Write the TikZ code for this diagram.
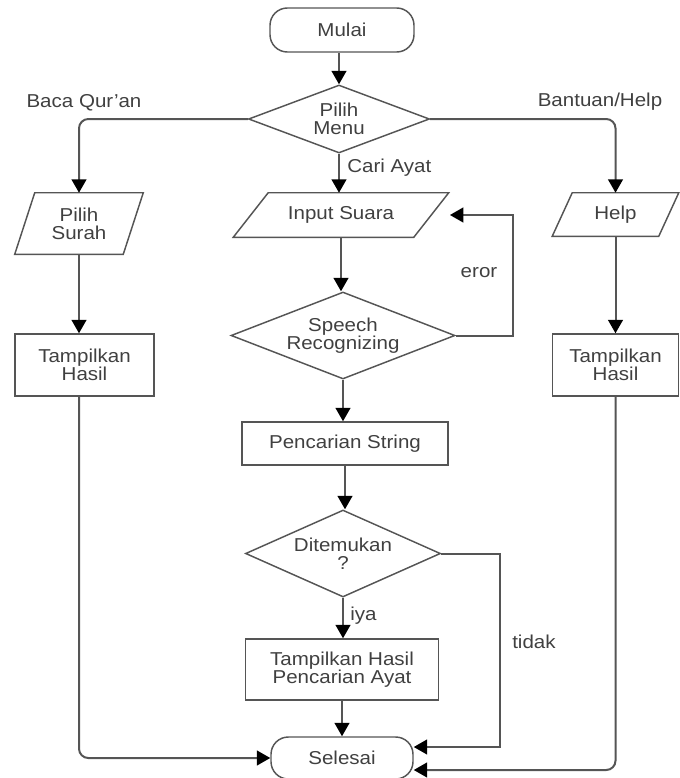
\documentclass[tikz,border=0pt]{standalone}
\usepackage{fontspec}
\setmainfont{Liberation Sans}[FakeStretch=1.1]
\usetikzlibrary{shapes.geometric,arrows.meta}
\definecolor{ln}{HTML}{555555}
\definecolor{tx}{HTML}{404040}
\newcommand\myparal[2]{\draw[shp] ([xshift=#2]#1.north west) -- ([xshift=#2]#1.north east) -- ([xshift=-#2]#1.south east) -- ([xshift=-#2]#1.south west) -- cycle;}
\begin{document}
\begin{tikzpicture}[x=0.75pt,y=-0.75pt,
  every node/.style={font=\fontsize{14}{13.3}\selectfont, text=tx, align=center, inner sep=0pt},
  shp/.style={draw=ln, line width=1.1pt},
  box/.style={shp, rectangle},
  term/.style={shp, rectangle, rounded corners=13pt},
  dec/.style={shp, diamond},
  para/.style={rectangle},
  conn/.style={draw=ln, line width=1.5pt, -{Triangle[length=10pt,width=11pt,color=black]}},
  lbl/.style={}
]
\useasboundingbox (0,0) rectangle (679,778);

% nodes
\node[term, minimum width=108pt, minimum height=33pt] (mulai) at (342,30) {Mulai};
\node[dec, aspect=2.66, minimum width=135.75pt, minimum height=51pt] (menu) at (339,119) {Pilih\\Menu};

\node[para, minimum width=81pt, minimum height=45.75pt] (surah) at (79,223.5) {Pilih\\Surah};
\myparal{surah}{7.5pt}
\node[box, minimum width=104.25pt, minimum height=46.5pt] (hasilL) at (84.5,365) {Tampilkan\\Hasil};

\node[para, minimum width=135pt, minimum height=33pt] (input) at (341,215) {Input Suara};
\myparal{input}{13.1pt}
\node[dec, aspect=2.57, minimum width=168pt, minimum height=65.25pt] (speech) at (343,335.5) {Speech\\Recognizing};
\node[box, minimum width=154.5pt, minimum height=32.25pt] (cari) at (345,443.5) {Pencarian String};
\node[dec, aspect=2.24, minimum width=146.25pt, minimum height=65.25pt] (found) at (343,553.5) {Ditemukan\\?};
\node[box, minimum width=144.75pt, minimum height=45.75pt] (ayat) at (342,669.5) {Tampilkan Hasil\\Pencarian Ayat};
\node[term, minimum width=106.5pt, minimum height=31.5pt] (selesai) at (342,758) {Selesai};

\node[para, minimum width=79.5pt, minimum height=32.25pt] (help) at (615.5,214.5) {Help};
\myparal{help}{7.5pt}
\node[box, minimum width=94.5pt, minimum height=46.5pt] (hasilR) at (615.5,365) {Tampilkan\\Hasil};

% labels
\node[lbl] (lbaca) at (84,103) {Baca Qur'an};
\node[lbl] (lbantu) at (600,102) {Bantuan/Help};
\node[lbl, anchor=west] (lcari) at (347,168) {Cari Ayat};
\node[lbl] (leror) at (479,273) {eror};
\node[lbl, anchor=west] (liya) at (350,616) {iya};
\node[lbl, anchor=west] (ltidak) at (512,642) {tidak};

% helper coordinates
\coordinate (eC) at (513,335.5);
\coordinate (eEnd) at ([xshift=14pt]input.east);
\coordinate (tC) at (500,553.5);
\coordinate (tEnd) at ([yshift=8.25pt]selesai.east);
\coordinate (hEnd) at ([yshift=-9pt]selesai.east);

% connectors
\draw[conn] (mulai.south -| menu.north) -- (menu.north);
\draw[conn, rounded corners=7pt] (menu.west) -| (surah.north);
\draw[conn, rounded corners=7pt] (menu.east) -| (help.north);
\draw[conn] (menu.south) -- (menu.south |- input.north);
\draw[conn] (input.south) -- (input.south |- speech.north);
\draw[conn] (speech.south) -- (speech.south |- cari.north);
\draw[conn] (cari.south) -- (cari.south |- found.north);
\draw[conn] (found.south) -- (found.south |- ayat.north);
\draw[conn] (ayat.south) -- (ayat.south |- selesai.north);
\draw[conn] (speech.east) -- (eC) |- (eEnd);
\draw[conn] (surah.south) -- (surah.south |- hasilL.north);
\draw[conn] (help.south) -- (help.south |- hasilR.north);
\draw[conn, rounded corners=7pt] (surah.south |- hasilL.south) |- (selesai.west);
\draw[conn] (found.east) -- (tC) |- (tEnd);
\draw[conn, rounded corners=7pt] (hasilR.south) |- (hEnd);
\end{tikzpicture}
\end{document}
